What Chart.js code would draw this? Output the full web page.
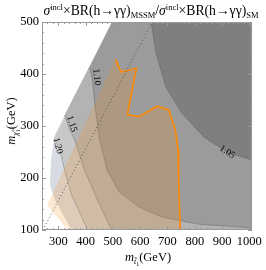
<!DOCTYPE html>
<html>
<head>
<meta charset="utf-8">
<script src="https://cdn.jsdelivr.net/npm/chart.js@4.4.1/dist/chart.umd.min.js"></script>
<style>
  html, body { margin: 0; padding: 0; background: #fff; }
  #wrap { width: 266px; height: 270px; }
</style>
</head>
<body>
<div id="wrap"><canvas id="chart" width="266" height="270"></canvas></div>
<script>
// axis ticks
const xTicks = [300, 400, 500, 600, 700, 800, 900, 1000];
const yTicks = [100, 200, 300, 400, 500];

// allowed region (m_stop, m_chi) and contour lines of the ratio
const domain = [[497, 500], [1010, 500], [1010, 100], [349, 100], [287, 158], [269, 186], [273, 235], [287, 283]];
const contour120 = [[285, 277], [306, 254], [323, 215], [349, 167], [407, 100]];
const contour115 = [[323, 321], [342, 292], [360, 273], [396, 215], [443, 158], [495, 100]];
const contour110 = [[415, 413], [425, 388], [436, 331], [451, 273], [479, 215], [523, 173], [596, 144], [680, 125], [814, 111], [1010, 104]];
const contour105 = [[640, 500], [658, 440], [694, 375], [752, 325], [833, 279], [923, 248], [1010, 235]];

// excluded region (orange line) and its left edge
const exclusionLine = [[509, 428], [530, 404], [586, 411], [553, 322], [596, 318], [662, 338], [705, 331], [729, 292], [739, 254], [741, 190], [747, 100]];
const exclusionEdge = [[335, 100], [259, 148]];

// dotted diagonal
const diagonal = [[243, 100], [644, 500]];

// contour labels
const contourLevels = ['1.20', '1.15', '1.10', '1.05'];
const labelPos = [[298, 262], [349, 304], [440, 394], [919, 250]];
const labelAngle = [75, 72, 84, 33];

const toPts = arr => arr.map(([x, y]) => ({ x, y }));

function fillSet(pts, color, order) {
    return { data: toPts(pts), showLine: true, fill: 'shape', backgroundColor: color,
             borderColor: 'transparent', borderWidth: 0, pointRadius: 0, tension: 0, order };
}
function lineSet(pts, color, width, order, dash) {
    return { data: toPts(pts), showLine: true, fill: false, borderColor: color,
             borderWidth: width, borderDash: dash || [], pointRadius: 0, tension: 0, order };
}

const datasets = [
    fillSet(domain, '#d8dce2', 20),
    fillSet(contour120.concat([[1010, 100], [1010, 500], [497, 500]]), '#c8c8c8', 19),
    fillSet(contour115.concat([[1010, 100], [1010, 500], [497, 500]]), '#b3b3b3', 18),
    fillSet(contour110.concat([[1010, 500], [497, 500]]), '#9b9b9b', 17),
    fillSet(contour105.concat([[1010, 500]]), '#7f7f7f', 16),
    lineSet(contour120, 'rgba(70,70,70,0.45)', 0.7, 15),
    lineSet(contour115, 'rgba(70,70,70,0.45)', 0.7, 14),
    lineSet(contour110, 'rgba(70,70,70,0.45)', 0.7, 13),
    lineSet(contour105, 'rgba(70,70,70,0.45)', 0.7, 12),
    fillSet(exclusionLine.concat(exclusionEdge), 'rgba(245,140,30,0.2)', 11),
    lineSet(exclusionLine, '#ff8a00', 1.6, 10),
    lineSet(diagonal, '#555555', 1, 9, [1, 2.5])
];

const serif = '"Liberation Serif", "DejaVu Serif", serif';

function rich(ctx, parts, x, y, rot) {
    ctx.save();
    ctx.translate(x, y);
    if (rot) ctx.rotate(rot);
    let w = 0;
    parts.forEach(p => {
        ctx.font = (p.i ? 'italic ' : '') + p.s + 'px ' + serif;
        p.w = ctx.measureText(p.t).width;
        w += p.w;
    });
    let cx = -w / 2;
    ctx.fillStyle = '#000';
    ctx.textBaseline = 'alphabetic';
    parts.forEach(p => {
        ctx.font = (p.i ? 'italic ' : '') + p.s + 'px ' + serif;
        ctx.fillText(p.t, cx, p.dy || 0);
        cx += p.w;
    });
    ctx.restore();
}

const framePlugin = {
    id: 'frame',
    afterDatasetsDraw(chart) {
        const { ctx, chartArea: a, scales: { x, y } } = chart;
        ctx.save();
        ctx.strokeStyle = '#9a9a9a';
        ctx.lineWidth = 1;
        ctx.strokeRect(a.left + 0.5, a.top + 0.5, a.right - a.left - 1, a.bottom - a.top - 1);
        ctx.beginPath();
        for (let v = 240; v <= 1000; v += 20) {
            const px = Math.round(x.getPixelForValue(v)) + 0.5;
            const len = v % 100 === 0 ? 4 : 2;
            ctx.moveTo(px, a.bottom); ctx.lineTo(px, a.bottom - len);
            ctx.moveTo(px, a.top); ctx.lineTo(px, a.top + len);
        }
        for (let v = 100; v <= 500; v += 20) {
            const py = Math.round(y.getPixelForValue(v)) + 0.5;
            const len = v % 100 === 0 ? 4 : 2;
            ctx.moveTo(a.left, py); ctx.lineTo(a.left + len, py);
            ctx.moveTo(a.right, py); ctx.lineTo(a.right - len, py);
        }
        ctx.stroke();

        // contour labels
        ctx.fillStyle = '#000';
        ctx.font = '9.5px ' + serif;
        ctx.textAlign = 'center';
        ctx.textBaseline = 'middle';
        contourLevels.forEach((t, i) => {
            ctx.save();
            ctx.translate(x.getPixelForValue(labelPos[i][0]), y.getPixelForValue(labelPos[i][1]));
            ctx.rotate(labelAngle[i] * Math.PI / 180);
            ctx.fillText(t, 0, 0);
            ctx.restore();
        });
        ctx.restore();

        // titles
        ctx.textAlign = 'left';
        rich(ctx, [
            { t: 'σ', s: 13.7, i: 1 }, { t: 'incl', s: 8.5, dy: -5 }, { t: '×BR(h→γγ)', s: 13.7 }, { t: 'MSSM', s: 8.5, dy: 3 },
            { t: '/', s: 13.7 },
            { t: 'σ', s: 13.7, i: 1 }, { t: 'incl', s: 8.5, dy: -5 }, { t: '×BR(h→γγ)', s: 13.7 }, { t: 'SM', s: 8.5, dy: 3 }
        ], 151, 15);
        rich(ctx, [
            { t: 'm', s: 12.5, i: 1 }, { t: 't̃', s: 8, i: 1, dy: 3 }, { t: '1', s: 6, dy: 5 }, { t: '(GeV)', s: 12.5 }
        ], 148, 261);
        rich(ctx, [
            { t: 'm', s: 12.5, i: 1 }, { t: 'χ̃', s: 8, i: 1, dy: 3 }, { t: '1', s: 6, dy: 5 }, { t: '(GeV)', s: 12.5 }
        ], 15, 121, -Math.PI / 2);
    }
};

new Chart(document.getElementById('chart'), {
    type: 'scatter',
    data: { datasets },
    options: {
        responsive: false,
        animation: false,
        events: [],
        layout: { padding: { top: 22, right: 12, left: 0, bottom: 0 } },
        plugins: { legend: { display: false }, tooltip: { enabled: false }, title: { display: false } },
        scales: {
            x: {
                type: 'linear', min: 240, max: 1010,
                afterBuildTicks: s => { s.ticks = xTicks.map(v => ({ value: v })); },
                afterFit: s => { s.height = 40; },
                grid: { display: false, drawTicks: false },
                border: { display: false },
                ticks: { color: '#000', font: { family: serif, size: 12.5 }, padding: 4, maxRotation: 0, autoSkip: false,
                         callback: v => String(v) }
            },
            y: {
                type: 'linear', min: 100, max: 500,
                afterBuildTicks: s => { s.ticks = yTicks.map(v => ({ value: v })); },
                afterFit: s => { s.width = 42; },
                grid: { display: false, drawTicks: false },
                border: { display: false },
                ticks: { color: '#000', font: { family: serif, size: 12.5 }, padding: 3, autoSkip: false,
                         callback: v => String(v) }
            }
        }
    },
    plugins: [framePlugin]
});
</script>
</body>
</html>
